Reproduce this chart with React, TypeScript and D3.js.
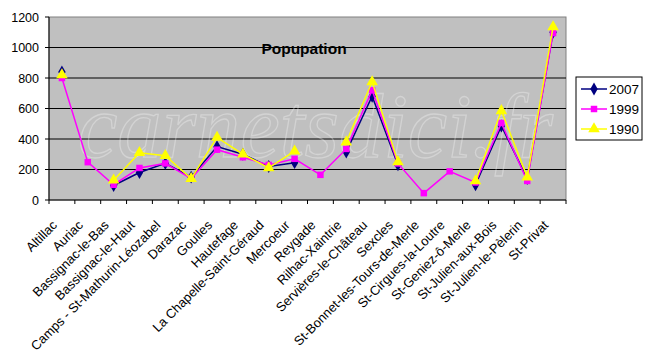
import React, { useEffect, useRef } from "react";
import * as d3 from "d3";

const communes = [
  "Altillac", "Auriac", "Bassignac-le-Bas", "Bassignac-le-Haut",
  "Camps - St-Mathurin-Léozabel", "Darazac", "Goulles", "Hautefage",
  "La Chapelle-Saint-Géraud", "Mercoeur", "Reygade", "Rilhac-Xaintrie",
  "Servières-le-Château", "Sexcles", "St-Bonnet-les-Tours-de-Merle",
  "St-Cirgues-la-Loutre", "St-Geniez-ô-Merle", "St-Julien-aux-Bois",
  "St-Julien-le-Pèlerin", "St-Privat",
];

const pop2007 = [840, null, 95, 180, 240, 150, 350, 300, 220, 245, null, 315, 680, 230, null, null, 100, 485, 140, 1100];
const pop1999 = [800, 248, 100, 210, 240, 140, 330, 280, 230, 270, 165, 335, 720, 240, 45, 188, 115, 505, 125, 1095];
const pop1990 = [820, null, 130, 310, 290, 140, 410, 300, 210, 320, null, 380, 775, 250, null, null, 125, 585, 150, 1135];

const yTicks = [0, 200, 400, 600, 800, 1000, 1200];

const seriesList = [
  { name: "2007", values: pop2007, color: "#000080", marker: "diamond" },
  { name: "1999", values: pop1999, color: "#FF00FF", marker: "square" },
  { name: "1990", values: pop1990, color: "#FFFF00", marker: "triangle" },
];

const symbolFor = (m: string) =>
  m === "diamond" ? d3.symbolDiamond : m === "square" ? d3.symbolSquare : d3.symbolTriangle;
const sizeFor = (m: string) => (m === "triangle" ? 58 : m === "square" ? 42 : 48);

const FONT = "Arial, Liberation Sans, sans-serif";

const App = () => {
  const svgRef = useRef(null);

  useEffect(() => {
    const svg = d3.select(svgRef.current);
    svg.selectAll("*").remove();

    const left = 49, right = 566, top = 17, bottom = 200;
    const x = d3.scaleBand().domain(communes).range([left, right]);
    const y = d3.scaleLinear().domain([0, 1200]).range([bottom, top]);

    svg.append("rect").attr("width", 650).attr("height", 361).attr("fill", "#fff");

    svg.append("rect")
      .attr("x", left).attr("y", top)
      .attr("width", right - left).attr("height", bottom - top)
      .attr("fill", "#C0C0C0").attr("stroke", "#808080");

    // gridlines
    svg.selectAll(".grid").data(yTicks.slice(1, -1)).join("line")
      .attr("x1", left).attr("x2", right)
      .attr("y1", (d) => y(d)).attr("y2", (d) => y(d))
      .attr("stroke", "#000").attr("stroke-width", 1);

    // watermark
    svg.append("text")
      .attr("x", 78).attr("y", 157)
      .attr("font-family", "Times New Roman, Liberation Serif, serif")
      .attr("font-style", "italic")
      .attr("font-size", 92)
      .attr("textLength", 475)
      .attr("lengthAdjust", "spacingAndGlyphs")
      .attr("fill", "none")
      .attr("stroke", "#fff")
      .attr("stroke-opacity", 0.3)
      .attr("stroke-width", 1.3)
      .text("carnetsdici.fr");

    // axes
    svg.append("line").attr("x1", left).attr("x2", left).attr("y1", top).attr("y2", bottom).attr("stroke", "#000");
    svg.append("line").attr("x1", left).attr("x2", right).attr("y1", bottom).attr("y2", bottom).attr("stroke", "#000");

    svg.selectAll(".ytick").data(yTicks).join("line")
      .attr("x1", left - 4).attr("x2", left)
      .attr("y1", (d) => y(d)).attr("y2", (d) => y(d))
      .attr("stroke", "#000");

    svg.selectAll(".ylab").data(yTicks).join("text")
      .attr("x", left - 10).attr("y", (d) => y(d) + 4.5)
      .attr("text-anchor", "end")
      .attr("font-family", FONT)
      .attr("font-size", 12.5)
      .text((d) => d);

    const xt = communes.map((_, i) => left + i * x.bandwidth()).concat([right]);
    svg.selectAll(".xtick").data(xt).join("line")
      .attr("x1", (d) => d).attr("x2", (d) => d)
      .attr("y1", bottom).attr("y2", bottom + 4)
      .attr("stroke", "#000");

    svg.selectAll(".xlab").data(communes).join("text")
      .attr("transform", (d) => `translate(${x(d)! + x.bandwidth() / 2 - 4},${bottom + 26}) rotate(-45)`)
      .attr("text-anchor", "end")
      .attr("font-family", FONT)
      .attr("font-size", 13)
      .text((d) => d);

    // series
    seriesList.forEach((s) => {
      const line = d3.line<number | null>()
        .defined((d) => d !== null)
        .x((_, i) => x(communes[i])! + x.bandwidth() / 2)
        .y((d) => y(d as number));
      svg.append("path").datum(s.values)
        .attr("d", line)
        .attr("fill", "none")
        .attr("stroke", s.color)
        .attr("stroke-width", 1.5);
      const sym = d3.symbol().type(symbolFor(s.marker)).size(sizeFor(s.marker));
      svg.append("g").selectAll("path")
        .data(s.values.map((v, i) => ({ v, c: communes[i] })).filter((d) => d.v !== null))
        .join("path")
        .attr("transform", (d) => `translate(${x(d.c)! + x.bandwidth() / 2},${y(d.v as number)})`)
        .attr("d", sym)
        .attr("fill", s.color);
    });

    // title
    svg.append("text")
      .attr("x", 304).attr("y", 54)
      .attr("text-anchor", "middle")
      .attr("font-family", FONT)
      .attr("font-weight", "bold")
      .attr("font-size", 15.5)
      .text("Popupation");

    // legend
    const lg = svg.append("g").attr("transform", "translate(576,77)");
    lg.append("rect").attr("width", 66).attr("height", 63).attr("fill", "#fff").attr("stroke", "#000");
    seriesList.forEach((s, i) => {
      const cy = 12 + i * 20;
      lg.append("line").attr("x1", 5).attr("x2", 31).attr("y1", cy).attr("y2", cy)
        .attr("stroke", s.color).attr("stroke-width", 1.5);
      lg.append("path")
        .attr("transform", `translate(18,${cy})`)
        .attr("d", d3.symbol().type(symbolFor(s.marker)).size(sizeFor(s.marker)))
        .attr("fill", s.color);
      lg.append("text").attr("x", 33).attr("y", cy + 5)
        .attr("font-family", FONT)
        .attr("font-size", 13.5)
        .text(s.name);
    });
  }, []);

  return (
    <svg ref={svgRef} width={650} height={361}
      style={{ position: "absolute", left: 0, top: 0 }} />
  );
};

export default App;
